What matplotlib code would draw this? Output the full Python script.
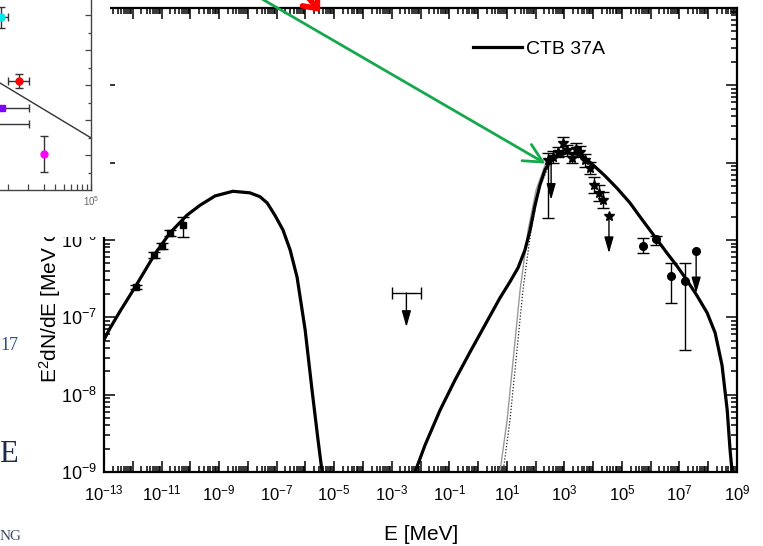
import numpy as np
import matplotlib
matplotlib.use("Agg")
import matplotlib.pyplot as plt
from matplotlib.patches import Rectangle, FancyArrowPatch
from matplotlib.ticker import FixedLocator, FuncFormatter, NullFormatter

plt.rcParams['font.family'] = ['Liberation Sans', 'DejaVu Sans']
plt.rcParams['mathtext.fontset'] = 'custom'
plt.rcParams['mathtext.rm'] = 'Liberation Sans'
plt.rcParams['mathtext.it'] = 'Liberation Sans:italic'
plt.rcParams['mathtext.bf'] = 'Liberation Sans:bold'

# ---------------- model curves (log10 E [MeV], log10 E^2 dN/dE) ----------------
sync_logE = [-13.0, -12.79, -12.44, -11.92, -11.23, -10.71, -10.12, -9.66, -9.14, -8.52,
             -7.93, -7.58, -7.33, -7.06, -6.78, -6.53, -6.29, -6.01, -5.77, -5.56, -5.42]
sync_logF = [-7.29, -7.14, -6.92, -6.61, -6.18, -5.91, -5.68, -5.55, -5.43, -5.37,
             -5.39, -5.44, -5.52, -5.68, -5.87, -6.13, -6.48, -7.16, -7.94, -8.59, -9.0]

gam_logE = [-2.19, -1.84, -1.32, -0.80, -0.28, 0.24, 0.76, 1.11, 1.39, 1.63, 1.81, 1.98,
            2.15, 2.33, 2.50, 2.78, 3.09, 3.44, 3.72, 4.00, 4.41, 4.83, 5.28, 5.63, 6.15,
            6.57, 6.92, 7.26, 7.61, 7.96, 8.24, 8.48, 8.66, 8.76, 8.83]
gam_logF = [-9.0, -8.65, -8.20, -7.81, -7.45, -7.10, -6.75, -6.54, -6.36, -6.13, -5.87, -5.55,
            -5.29, -5.09, -4.99, -4.91, -4.87, -4.89, -4.94, -5.03, -5.17, -5.33, -5.52, -5.70, -5.96,
            -6.17, -6.34, -6.52, -6.72, -6.94, -7.20, -7.62, -8.20, -8.72, -9.0]

pion_logE = [0.76, 1.01, 1.22, 1.46, 1.74, 2.02, 2.33, 2.68, 3.09, 3.44]
pion_logF = [-9.0, -8.33, -7.55, -6.65, -5.87, -5.35, -5.03, -4.92, -4.87, -4.89]

alt_logE = [0.87, 1.11, 1.32, 1.56, 1.84, 2.12, 2.43, 2.78, 3.09, 3.44]
alt_logF = [-9.0, -8.33, -7.55, -6.65, -5.87, -5.35, -5.06, -4.93, -4.88, -4.89]

# ---------------- measurements ----------------
radio_logE = [-11.89, -11.26, -10.98, -10.71, -10.25]
radio_logF = [-6.61, -6.19, -6.08, -5.91, -5.81]
radio_lo = [-6.64, -6.23, -6.12, -5.95, -5.96]
radio_hi = [-6.58, -6.15, -6.04, -5.87, -5.70]

xray_ul_logE = -2.49
xray_ul_logE_lo = -2.99
xray_ul_logE_hi = -1.98
xray_ul_logF = -6.685
xray_ul_end = -7.125

lat_logE = [2.43, 2.61, 2.78, 2.95, 3.09, 3.27, 3.41, 3.55, 3.72, 3.89, 4.03, 4.21, 4.34]
lat_logF = [-4.97, -4.93, -4.86, -4.75, -4.84, -4.94, -4.82, -4.86, -4.97, -5.07, -5.29, -5.39, -5.48]
lat_lo = [-5.72, -5.01, -4.93, -4.86, -4.91, -5.01, -4.89, -4.93, -5.05, -5.15, -5.39, -5.49, -5.58]
lat_hi = [-4.87, -4.85, -4.80, -4.67, -4.77, -4.87, -4.75, -4.79, -4.89, -4.99, -5.19, -5.29, -5.38]
lat_ul_logE = [2.54, 4.55]
lat_ul_logF = [-5.00, -5.69]
lat_ul_end = [-5.48, -6.17]
lat_ul_marker = [False, True]

tev_logE = [5.73, 6.19, 6.71, 7.19]
tev_logF = [-6.08, -5.99, -6.47, -6.53]
tev_lo = [-6.17, -6.06, -6.81, -7.42]
tev_hi = [-5.97, -5.95, -6.30, -6.30]
tev_ul_logE = 7.58
tev_ul_logF = -6.14
tev_ul_end = -6.69

x_major_exp = list(range(-13, 10))
y_major_exp = list(range(-9, -2))

# ---------------- small panel data ----------------
pan_x = [1.0e4, 1.58e4, 1.03e4, 0.70e4, 3.0e4]
pan_y = [4.94, 3.12, 2.33, 1.89, 1.03]
pan_xlo = [0.17e4, 0.38e4, 0.43e4, 0.20e4, 0.0]
pan_xhi = [0.20e4, 0.47e4, 1.02e4, 1.35e4, 0.0]
pan_yerr = [0.30, 0.20, 0.0, 0.0, 0.51]
pan_colors = ['#00e5ee', '#ff0000', '#7f00ff', 'none', '#ff00ff']
pan_markers = ['o', 'o', 's', 'o', 'o']
pan_fit_x = [8.0e3, 1.0e5]
pan_fit_y = [3.19, 1.49]


def arr(v):
    return 10.0 ** np.asarray(v, dtype=float)


W, H = 763, 546
fig = plt.figure(figsize=(W / 100, H / 100), dpi=100)


def fx(px):
    return px / W


def fy(py):
    return 1 - py / H


ax = fig.add_axes([fx(104), fy(472), fx(737) - fx(104), fy(8) - fy(472)])
ax.set_xscale('log')
ax.set_yscale('log')
ax.set_xlim(1e-13, 1e9)
ax.set_ylim(1e-9, 1e-3)

# curves
ax.plot(arr(pion_logE), arr(pion_logF), color='#9a9a9a', lw=1.0, zorder=2)
ax.plot(arr(alt_logE), arr(alt_logF), color='#222222', lw=0.9, ls=(0, (1, 1.5)), zorder=2)
ax.plot(arr(sync_logE), arr(sync_logF), color='k', lw=2.3, zorder=3, label='CTB 37A')
ax.plot(arr(gam_logE), arr(gam_logF), color='k', lw=2.3, zorder=3)

eb = dict(color='k', ecolor='k', elinewidth=1.0, capsize=4, capthick=1.0, zorder=4)


def yerrs(logF, lo, hi):
    f = arr(logF)
    return [f - arr(lo), arr(hi) - f]


ax.errorbar(arr(radio_logE), arr(radio_logF), yerr=yerrs(radio_logF, radio_lo, radio_hi),
            fmt='s', ms=5, **eb)
ax.errorbar(arr(lat_logE), arr(lat_logF), yerr=yerrs(lat_logF, lat_lo, lat_hi),
            fmt='*', ms=7, **eb)
ax.errorbar(arr(tev_logE), arr(tev_logF), yerr=yerrs(tev_logF, tev_lo, tev_hi),
            fmt='o', ms=5.5, **eb)

# upper limits
ul_arrow = dict(arrowstyle='-|>,head_length=0.7,head_width=0.2', color='k', lw=1.0,
                shrinkA=0, shrinkB=0, mutation_scale=14)
xc = 10 ** xray_ul_logE
ax.errorbar([xc], [10 ** xray_ul_logF],
            xerr=[[xc - 10 ** xray_ul_logE_lo], [10 ** xray_ul_logE_hi - xc]],
            fmt='none', ecolor='k', elinewidth=1.0, capsize=4, capthick=1.0)
ax.annotate('', xy=(xc, 10 ** xray_ul_end), xytext=(xc, 10 ** xray_ul_logF), arrowprops=ul_arrow)

for e, f, end, mk in zip(lat_ul_logE, lat_ul_logF, lat_ul_end, lat_ul_marker):
    if mk:
        ax.plot([10 ** e], [10 ** f], '*', color='k', ms=7, zorder=4)
    ax.annotate('', xy=(10 ** e, 10 ** end), xytext=(10 ** e, 10 ** f), arrowprops=ul_arrow)

ax.plot([10 ** tev_ul_logE], [10 ** tev_ul_logF], 'o', color='k', ms=5.5, zorder=4)
ax.annotate('', xy=(10 ** tev_ul_logE, 10 ** tev_ul_end), xytext=(10 ** tev_ul_logE, 10 ** tev_ul_logF),
            arrowprops=ul_arrow)

# axes styling
ax.xaxis.set_major_locator(FixedLocator(arr(x_major_exp)))
ax.yaxis.set_major_locator(FixedLocator(arr(y_major_exp)))
x_minor = [m * 10.0 ** k for k in range(-13, 9) for m in range(2, 10)]
y_minor = [m * 10.0 ** k for k in range(-9, -3) for m in range(2, 10)]
ax.xaxis.set_minor_locator(FixedLocator(x_minor))
ax.yaxis.set_minor_locator(FixedLocator(y_minor))
ax.xaxis.set_minor_formatter(NullFormatter())
ax.yaxis.set_minor_formatter(NullFormatter())


def xfmt(v, pos):
    k = int(round(np.log10(v)))
    return r'$\mathregular{10^{%d}}$' % k if k % 2 else ''


def yfmt(v, pos):
    k = int(round(np.log10(v)))
    return r'$\mathregular{10^{%d}}$' % k


ax.xaxis.set_major_formatter(FuncFormatter(xfmt))
ax.yaxis.set_major_formatter(FuncFormatter(yfmt))
ax.tick_params(which='both', direction='in', top=True, right=True, width=1.1)
ax.tick_params(which='major', length=8)
ax.tick_params(which='minor', length=4)
ax.tick_params(axis='x', labelsize=12, pad=8)
ax.tick_params(axis='y', labelsize=13, pad=5)
for s in ax.spines.values():
    s.set_linewidth(1.6)

ax.legend(loc='center left', bbox_to_anchor=((473 - 104) / 633, (472 - 49) / 464),
          frameon=False, fontsize=14, handlelength=2.5, handletextpad=0.2,
          borderpad=0, borderaxespad=0)

fig.text(fx(421), fy(535), 'E [MeV]', ha='center', va='center', fontsize=15)
fig.text(fx(50), fy(383), r'E$^2$dN/dE [MeV cm$^{-2}$ s$^{-1}$]', rotation=90,
         ha='center', va='bottom', fontsize=15)

# white backing for the small panel
fig.add_artist(Rectangle((0, fy(237)), fx(110), 1 - fy(237), transform=fig.transFigure,
                         facecolor='white', edgecolor='none', zorder=5))

# small panel
ins = fig.add_axes([fx(-10), fy(190), fx(91) - fx(-10), fy(-6) - fy(190)], zorder=10)
ins.set_xscale('log')
ins.set_xlim(10 ** 3.878, 1e5)
ins.set_ylim(0, 5.6)
ins.plot(pan_fit_x, pan_fit_y, color='#333333', lw=1.0)
for x, y, xl, xh, ye, c, m in zip(pan_x, pan_y, pan_xlo, pan_xhi, pan_yerr, pan_colors, pan_markers):
    ins.errorbar([x], [y], xerr=[[xl], [xh]] if (xl or xh) else None,
                 yerr=[[ye], [ye]] if ye else None,
                 fmt=m, ms=5, mfc=c, mec=c, ecolor='#333333', elinewidth=1.0,
                 capsize=3, capthick=1.0, zorder=3)
ins.xaxis.set_major_locator(FixedLocator([1e5]))
ins.xaxis.set_minor_locator(FixedLocator([1.2e4] + [m * 1e4 for m in range(2, 10)]))
ins.xaxis.set_major_formatter(FuncFormatter(lambda v, p: r'$\mathregular{10^{5}}$'))
ins.xaxis.set_minor_formatter(NullFormatter())
ins.yaxis.set_major_locator(FixedLocator([1, 2, 3, 4, 5]))
ins.yaxis.set_minor_locator(FixedLocator([0.5, 1.5, 2.5, 3.5, 4.5]))
ins.yaxis.tick_right()
ins.tick_params(axis='y', which='both', direction='in', labelright=False, labelleft=False,
                color='#444444', width=0.9)
ins.tick_params(axis='y', which='major', length=4.5)
ins.tick_params(axis='y', which='minor', length=2.3)
ins.tick_params(axis='x', which='both', direction='in', length=4, color='#444444', width=0.9,
                labelsize=7, labelcolor='#666666', pad=3)
for s in ins.spines.values():
    s.set_color('#444444')
    s.set_linewidth(1.0)

# pointer arrows
fig.add_artist(FancyArrowPatch((fx(250), fy(-8)), (fx(548), fy(165)), transform=fig.transFigure,
                               arrowstyle='->,head_length=0.9,head_width=0.45', mutation_scale=15,
                               lw=2.0, color='#16a84c', zorder=20))
fig.add_artist(FancyArrowPatch((fx(285), fy(-30)), (fx(322), fy(14)), transform=fig.transFigure,
                               arrowstyle='->,head_length=0.6,head_width=0.5', mutation_scale=14,
                               lw=4.0, color='#ff0000', zorder=20))

# surrounding text fragments
fig.text(fx(0), fy(346), '17', family=['Liberation Serif', 'DejaVu Serif'], fontsize=13,
         color='#2c4f86', ha='left', va='center')
fig.text(fx(-1), fy(455), 'E', family=['Liberation Serif', 'DejaVu Serif'], fontsize=22,
         color='#1d2c4c', ha='left', va='center')
fig.text(fx(0), fy(536), 'NG', family=['Liberation Serif', 'DejaVu Serif'], fontsize=11,
         color='#3c4a66', ha='left', va='center')

fig.savefig('out.png', dpi=100)
